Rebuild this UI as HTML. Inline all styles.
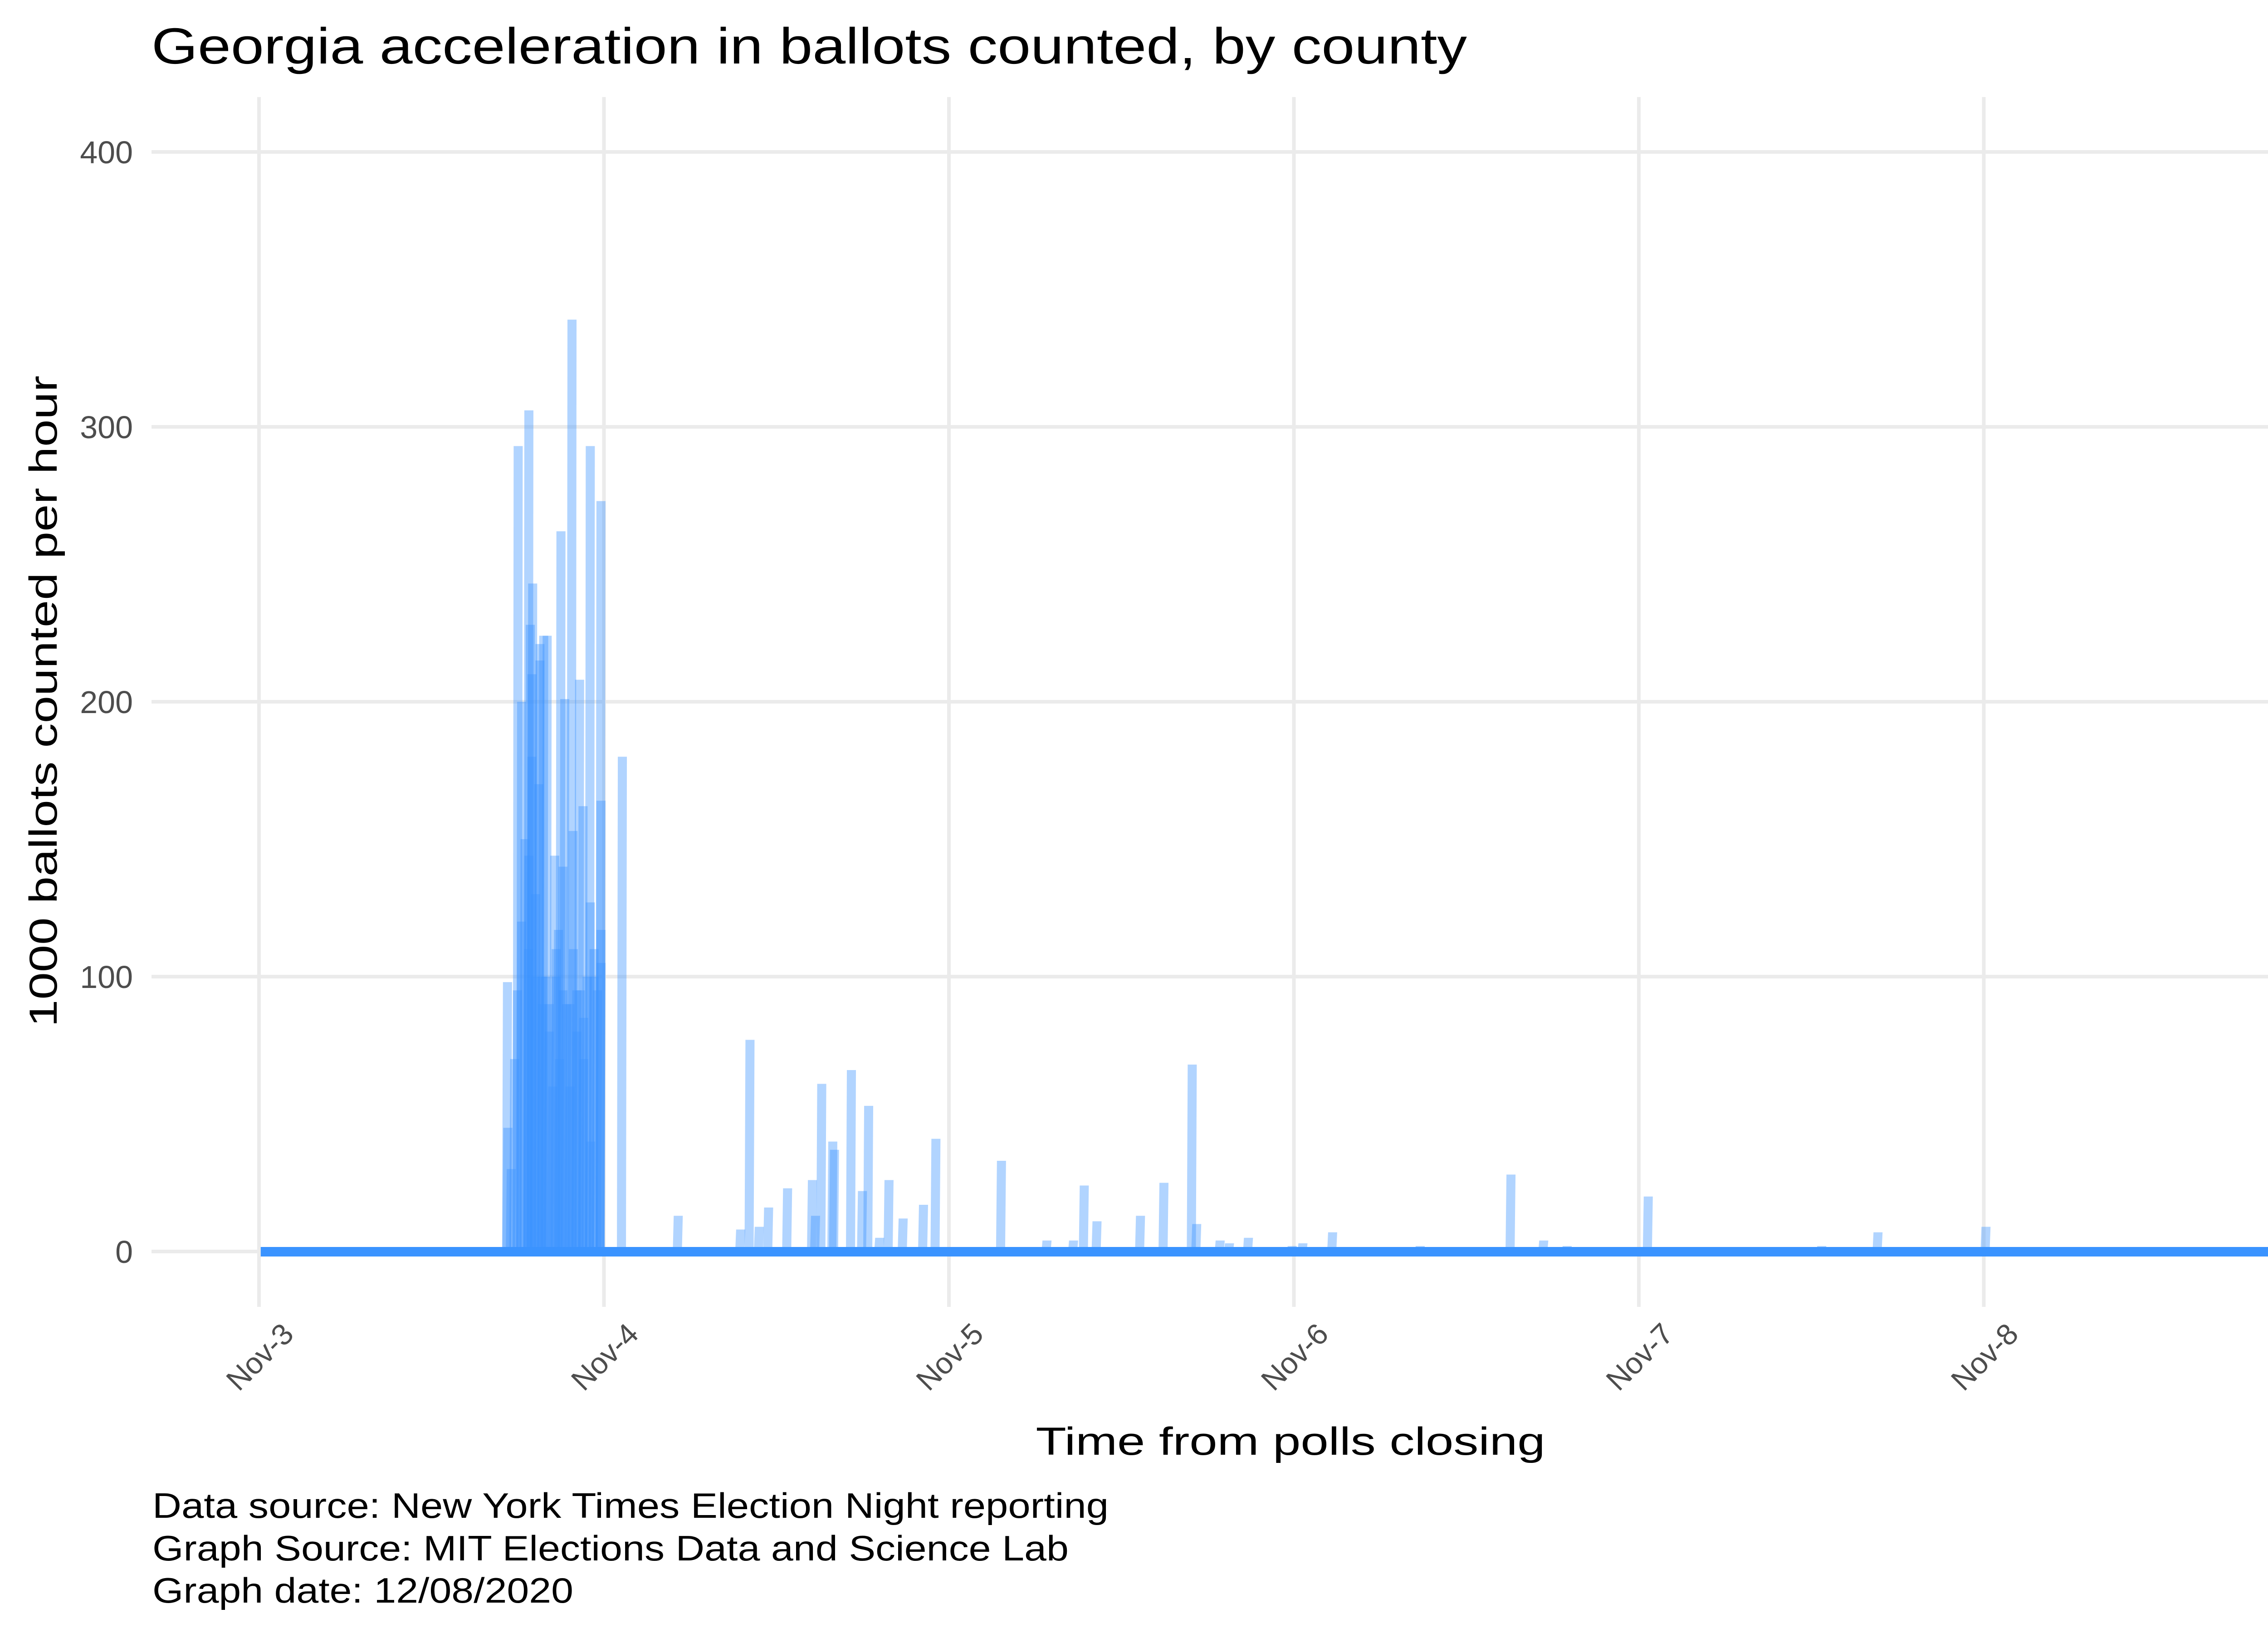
<!DOCTYPE html>
<html><head><meta charset="utf-8"><style>
html,body{margin:0;padding:0;background:#fff;width:5400px;height:3600px;overflow:hidden;}
svg{display:block;font-family:"Liberation Sans",Arial,sans-serif;}
</style></head><body>
<svg id="chart" width="5400" height="3600" viewBox="0 0 5400 3600" xmlns="http://www.w3.org/2000/svg">
<rect width="5400" height="3600" fill="#fff"/>
<g id="grid"></g>
<g id="marks"></g>
<g id="axes"></g>
<text x="334" y="140" font-size="112" fill="#000" textLength="2900" lengthAdjust="spacingAndGlyphs">Georgia acceleration in ballots counted, by county</text>
<text transform="translate(125,1546) rotate(-90)" text-anchor="middle" font-size="86" fill="#000" textLength="1436" lengthAdjust="spacingAndGlyphs">1000 ballots counted per hour</text>
<text x="2845" y="3207" text-anchor="middle" font-size="86" fill="#000" textLength="1123" lengthAdjust="spacingAndGlyphs">Time from polls closing</text>
<text x="336" y="3346" font-size="78" fill="#000" textLength="2108" lengthAdjust="spacingAndGlyphs">Data source: New York Times Election Night reporting</text>
<text x="336" y="3440" font-size="78" fill="#000" textLength="2020" lengthAdjust="spacingAndGlyphs">Graph Source: MIT Elections Data and Science Lab</text>
<text x="336" y="3533" font-size="78" fill="#000" textLength="928" lengthAdjust="spacingAndGlyphs">Graph date: 12/08/2020</text>
</svg>
<script>
const yTicks = [0, 100, 200, 300, 400];
const xTickLabels = ["Nov-3", "Nov-4", "Nov-5", "Nov-6", "Nov-7", "Nov-8"];
const xTickDays = [0, 1, 2, 3, 4, 5];
const spikeDays = [0.719,0.750,0.781,0.792,0.785,0.824,0.834,0.813,0.813,0.874,0.906,0.885,0.928,0.959,0.990,1.052,0.909,0.938,0.959,0.990,0.990,0.856,0.867,0.748,0.781,
0.72,0.73,0.74,0.76,0.77,0.78,0.79,0.80,0.81,0.82,0.83,0.84,0.85,0.86,0.87,0.88,0.89,0.90,0.91,0.92,0.93,0.94,0.95,0.96,0.97,0.98,0.99,0.76,0.79,0.80,0.82,0.84,0.86,0.88,0.90,0.92,0.94,0.97,
1.214,1.395,1.422,1.449,1.476,1.531,1.603,1.612,1.630,1.662,1.667,1.716,1.748,1.766,1.798,1.825,1.866,1.925,1.961,2.151,2.283,2.360,2.391,2.428,2.554,2.622,2.704,2.717,2.785,2.812,2.867,2.994,3.025,3.111,3.365,3.628,3.723,3.791,4.026,4.529,4.692,5.005,5.507];
const spikeValues = [98,293,306,243,228,224,224,221,215,262,339,201,208,293,273,180,153,162,127,164,117,144,117,95,144,
45,30,70,120,150,110,180,130,170,90,100,80,60,110,70,140,90,60,110,80,95,70,100,40,110,95,105,200,210,100,100,90,100,95,90,95,85,100,
13,8,77,9,16,23,26,13,61,40,37,66,22,53,5,26,12,17,41,33,4,4,24,11,13,25,68,10,4,3,5,2,3,7,2,28,4,2,20,2,7,9,1];
const xStartDay = 0.005, xEndDay = 5.999;

const NS = "http://www.w3.org/2000/svg";
const X0 = 571, DAY = 760.5, Y0 = 2759, PER = 6.06;
function xs(d){ return X0 + d*DAY; }
function ys(v){ return Y0 - v*PER; }
function mk(tag, attrs, parent){ const e=document.createElementNS(NS,tag); for(const k in attrs) e.setAttribute(k,attrs[k]); parent.appendChild(e); return e; }

const grid=document.getElementById('grid'), marks=document.getElementById('marks'), axes=document.getElementById('axes');
yTicks.forEach(t=>{
  const l=mk('line',{x1:334,x2:5365,y1:ys(t),y2:ys(t),stroke:'#ebebeb','stroke-width':8},grid);
  
  
  const tx=mk('text',{x:293,y:ys(t)+25,'text-anchor':'end','font-size':70,fill:'#4d4d4d'},axes);
  tx.textContent=String(t);
  
  
});
xTickDays.forEach((d,i)=>{
  const l=mk('line',{x1:xs(d),x2:xs(d),y1:214,y2:2881,stroke:'#ebebeb','stroke-width':8},grid);
  
  
  const tx=mk('text',{transform:`translate(${xs(d)+80},2945) rotate(-45)`,'text-anchor':'end','font-size':66,fill:'#4d4d4d'},axes);
  tx.textContent=xTickLabels[i];
  
  
});
spikeDays.forEach((d,i)=>{
  const v=spikeValues[i];
  const r=mk('polygon',{points:`${xs(d)-11},${ys(0)} ${xs(d)+9},${ys(0)} ${xs(d)+11},${ys(v)} ${xs(d)-9},${ys(v)}`,fill:'#3d94ff','fill-opacity':0.4},marks);
  
  
});
const b=mk('rect',{x:xs(xStartDay),y:ys(0)-10,width:xs(xEndDay)-xs(xStartDay),height:21,fill:'#3a93ff'},marks);


</script>
</body></html>
